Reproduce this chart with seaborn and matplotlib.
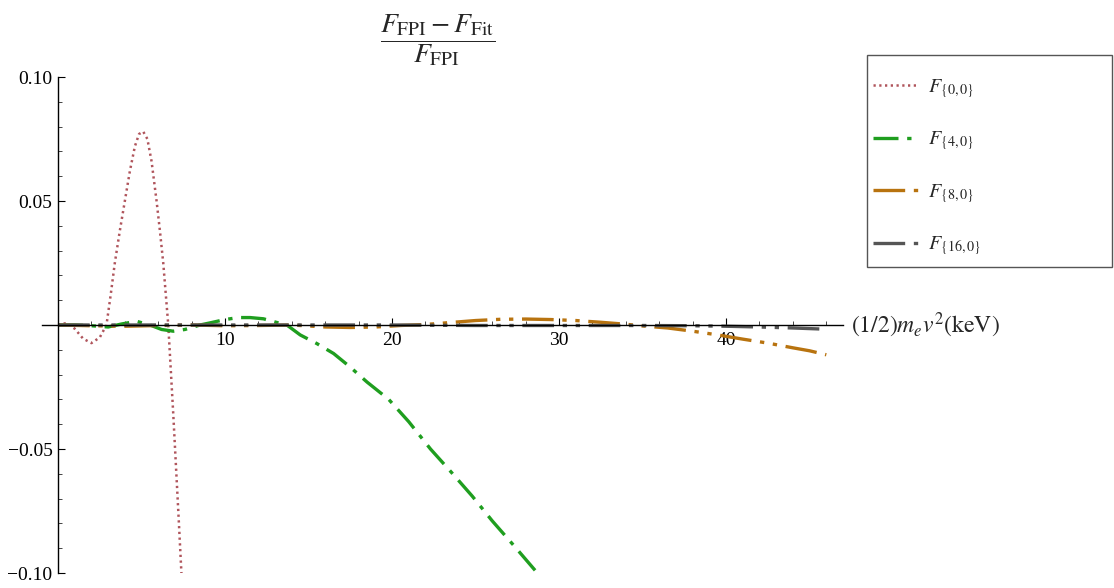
import numpy as np
import pandas as pd
import matplotlib
matplotlib.use("Agg")
import matplotlib.pyplot as plt
import seaborn as sns
from matplotlib.ticker import FixedLocator, MultipleLocator
from matplotlib.patches import Rectangle

# ---- data ----
x00 = [0, 0.5, 1.0, 1.5, 2.0, 2.5, 2.9, 3.15, 3.4, 3.7, 4.0, 4.3, 4.6, 4.85, 5.1,
       5.35, 5.6, 5.9, 6.1, 6.3, 6.6, 6.9, 7.2, 7.5]
y00 = [0, 0.0008, -0.0015, -0.0055, -0.0073, -0.005, 0.0, 0.012, 0.025, 0.038, 0.05,
       0.062, 0.072, 0.077, 0.078, 0.075, 0.066, 0.05, 0.038, 0.025, 0.0, -0.036,
       -0.075, -0.115]

x40 = [0, 1, 2, 3, 3.8, 4.7, 5.5, 6.2, 6.9, 7.6, 8.5, 9.2, 10, 10.8, 11.5, 12.3, 13.0,
       13.7, 14.5, 15.5, 16.5, 17.5, 18.5, 19.8, 21, 22.3, 23.5, 24.8, 26, 27.3, 28.7,
       29.5]
y40 = [0, 0, -0.0003, -0.0008, 0.0004, 0.0015, 0.0, -0.0018, -0.0025, -0.0018, 0.0,
       0.001, 0.0022, 0.003, 0.003, 0.0025, 0.0012, 0.0, -0.004, -0.0075, -0.0115,
       -0.017, -0.023, -0.030, -0.039, -0.05, -0.059, -0.069, -0.079, -0.089, -0.1,
       -0.107]

x80 = [0, 2, 4, 6, 8, 10, 12, 14, 16, 17.5, 19, 20.5, 22, 23.5, 25, 26.5, 28, 29.5,
       31, 32.5, 34, 35.2, 36.5, 38, 39.5, 41, 42.5, 44, 45, 46]
y80 = [0, -0.0003, -0.0005, -0.0002, 0, -0.0003, -0.0002, 0, -0.0008, -0.001, -0.0008,
       -0.0002, 0.0002, 0.001, 0.0018, 0.0023, 0.0024, 0.0022, 0.0018, 0.0011, 0.0003,
       -0.0005, -0.0012, -0.0025, -0.004, -0.0057, -0.0073, -0.0092, -0.0104, -0.012]

x160 = [0, 5, 10, 15, 20, 25, 30, 35, 38, 40, 42, 44, 46]
y160 = [0, 0, 0, 0, 0, -0.0002, -0.0002, -0.0002, -0.0003, -0.0005, -0.0008, -0.0012,
        -0.0017]

labels = [r"$F_{\{0,0\}}$", r"$F_{\{4,0\}}$", r"$F_{\{8,0\}}$", r"$F_{\{16,0\}}$"]
xticks = [10, 20, 30, 40]
yticks = [-0.10, -0.05, 0.05, 0.10]
yticklabels = ["\u22120.10", "\u22120.05", "0.05", "0.10"]

# ---- style ----
sns.set_style("white")
plt.rcParams["font.family"] = ["Liberation Serif", "DejaVu Serif"]
plt.rcParams["mathtext.fontset"] = "stix"

W, H = 1114, 588
fig = plt.figure(figsize=(W / 100, H / 100), dpi=100)
ax_left, ax_right = 42, 843
ax_top, ax_bot = 77, 573
ax = fig.add_axes([ax_left / W, 1 - ax_bot / H, (ax_right - ax_left) / W,
                   (ax_bot - ax_top) / H])
ax.set_facecolor("white")

series = [
    (x00, y00, "#b0555c", 1.8, (0, (0.9, 1.4))),
    (x40, y40, "#1f9e1f", 2.4, (0, (7.5, 2.6, 1.3, 2.6))),
    (x80, y80, "#b8730f", 2.4, (0, (9.5, 2.6, 1.3, 2.6, 1.3, 2.6))),
    (x160, y160, "#555555", 2.4, (0, (9.5, 2.6, 1.3, 2.6, 1.3, 2.6))),
]
for (xs, ys, c, lw, ls), lab in zip(series, labels):
    df = pd.DataFrame({"x": xs, "y": ys})
    sns.lineplot(data=df, x="x", y="y", ax=ax, color=c, lw=lw, linestyle=ls,
                 label=lab, sort=False, legend=False)

ax.set_xlim(-0.96, 47)
ax.set_ylim(-0.10, 0.10)

for s in ["top", "right"]:
    ax.spines[s].set_visible(False)
ax.spines["left"].set_position(("data", 0))
ax.spines["bottom"].set_position(("data", 0))
for s in ["left", "bottom"]:
    ax.spines[s].set_color("black")
    ax.spines[s].set_linewidth(1.0)

ax.xaxis.set_major_locator(FixedLocator(xticks))
ax.xaxis.set_minor_locator(MultipleLocator(2))
ax.set_xticklabels([str(t) for t in xticks])
ax.yaxis.set_major_locator(FixedLocator(yticks))
ax.yaxis.set_minor_locator(MultipleLocator(0.01))
ax.set_yticklabels(yticklabels)
ax.tick_params(axis="both", which="major", direction="in", length=5, width=0.8,
               labelsize=14, colors="black", bottom=True, left=True)
ax.tick_params(axis="both", which="minor", direction="in", length=3, width=0.6,
               bottom=True, left=True)
ax.tick_params(axis="x", pad=5)
ax.tick_params(axis="y", pad=4)
ax.set_xlabel("")
ax.set_ylabel("")

# axis label at end of x-axis
ax.text(47.5, 0, r"$(1/2)m_e v^2(\mathrm{keV})$", fontsize=17, ha="left",
        va="center", clip_on=False)

# title fraction
fig.text(438 / W, 1 - 40 / H,
         r"$\dfrac{F_{\mathrm{FPI}}-F_{\mathrm{Fit}}}{F_{\mathrm{FPI}}}$",
         fontsize=20, ha="center", va="center")

# legend frame (drawn as a figure rectangle) and legend entries
fig.patches.append(Rectangle((867 / W, 1 - 267 / H), (1112 - 867) / W,
                             (267 - 55) / H, transform=fig.transFigure,
                             facecolor="white", edgecolor="#555555", lw=1.0,
                             zorder=0))
handles = ax.get_lines()[:4]
leg = fig.legend(handles, labels, loc="upper left",
                 bbox_to_anchor=(873 / W, 1 - 77 / H),
                 fontsize=14.5, frameon=False,
                 borderpad=0.0, labelspacing=1.47, handlelength=2.3,
                 handletextpad=0.45, borderaxespad=0.0)

fig.savefig("out.png", dpi=100)
